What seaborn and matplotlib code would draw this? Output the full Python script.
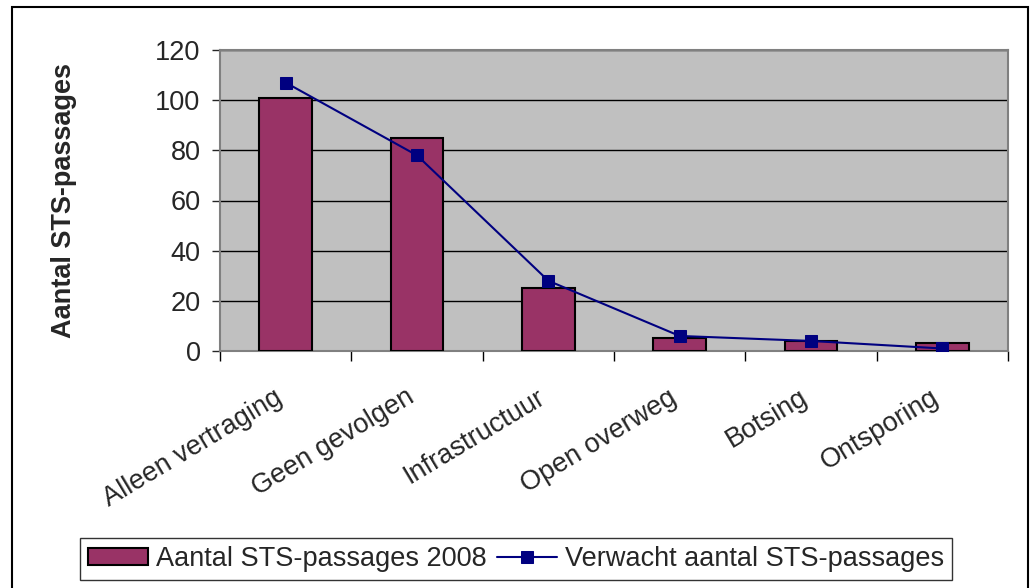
import matplotlib

matplotlib.use("Agg")

import matplotlib.pyplot as plt
import numpy as np
import pandas as pd
import seaborn as sns
from matplotlib.patches import Rectangle

categories = ["Alleen vertraging", "Geen gevolgen", "Infrastructuur",
              "Open overweg", "Botsing", "Ontsporing"]
passages_2008 = [101, 85, 25, 5, 4, 3]
expected = [107, 78, 28, 6, 4, 1]
y_ticks = [0, 20, 40, 60, 80, 100, 120]

BAR_LABEL = "Aantal STS-passages 2008"
LINE_LABEL = "Verwacht aantal STS-passages"

sns.set_style("white")
plt.rcParams["font.family"] = ["Liberation Sans", "DejaVu Sans"]

frame = pd.DataFrame({"categorie": categories, "aantal": passages_2008,
                      "verwacht": expected, "pos": np.arange(len(categories))})

fig = plt.figure(figsize=(10.3, 5.88), dpi=100)
ax = fig.add_axes([220 / 1030, 1 - 351 / 588, 788 / 1030, 301 / 588])
ax.set_facecolor("#c0c0c0")

sns.barplot(data=frame, x="categorie", y="aantal", color="#993366",
            saturation=1, width=0.4, edgecolor="black", linewidth=1.5,
            label=BAR_LABEL, ax=ax, zorder=3)
sns.lineplot(data=frame, x="pos", y="verwacht", color="#000080",
             marker="s", markersize=9, markeredgecolor="#000080",
             linewidth=1.5, label=LINE_LABEL, ax=ax, zorder=4)

ax.set_xlim(-0.5, len(categories) - 0.5)
ax.set_ylim(0, 120)
ax.set_yticks(y_ticks)
ax.yaxis.grid(True, color="black", linewidth=1)
ax.set_axisbelow(True)

# labels sit a little left of the category centre, as in the original
ax.set_xticks(np.arange(len(categories)) - 0.09)
ax.set_xticklabels(categories, rotation=31, ha="right",
                   rotation_mode="anchor", fontsize=19.5)
ax.set_xticks(np.arange(len(categories) + 1) - 0.5, minor=True)
ax.tick_params(axis="x", which="major", length=0, pad=24)
ax.tick_params(axis="x", which="minor", length=7, width=1, color="black",
               direction="out", bottom=True)
ax.tick_params(axis="y", length=6, width=1, direction="out", left=True,
               labelsize=19.5, pad=8)
ax.set_xlabel("")
ax.set_ylabel("Aantal STS-passages", fontsize=19.5, fontweight="bold",
              labelpad=56)

for side in ["left", "right", "top", "bottom"]:
    ax.spines[side].set_color("#808080")
    ax.spines[side].set_linewidth(1.5)

ax.get_legend().remove()
handles, labels = ax.get_legend_handles_labels()
order = [labels.index(BAR_LABEL), labels.index(LINE_LABEL)]
leg = fig.legend([handles[i] for i in order], [labels[i] for i in order],
                 loc="center", bbox_to_anchor=(0.501, 0.049),
                 ncol=2, frameon=True, fancybox=False, fontsize=19.5,
                 edgecolor="black", handlelength=2.2, handleheight=0.6,
                 handletextpad=0.3, columnspacing=0.4, borderpad=0.3)
leg.get_frame().set_linewidth(1)

fig.patches.append(Rectangle((12 / 1030, -0.05), 1016 / 1030, 1.05 - 7 / 588,
                             transform=fig.transFigure, fill=False,
                             edgecolor="black", linewidth=1.5))

fig.savefig("out.png", dpi=100)
